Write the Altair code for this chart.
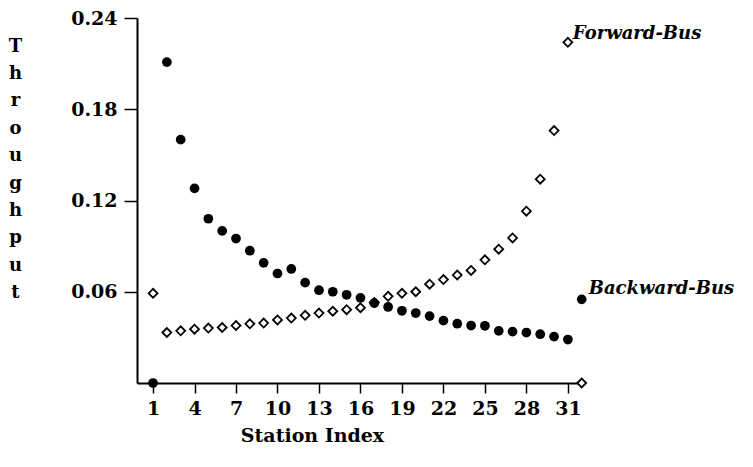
import altair as alt
import pandas as pd

stations = list(range(1, 33))
backward_bus = [0.0, 0.211, 0.160, 0.128, 0.108, 0.100, 0.095, 0.087, 0.079, 0.072,
                0.075, 0.066, 0.061, 0.060, 0.058, 0.056, 0.0525, 0.050, 0.0475, 0.046,
                0.044, 0.041, 0.039, 0.0378, 0.0376, 0.0343, 0.0338, 0.0332, 0.0321, 0.0305,
                0.0286, 0.055]
forward_bus = [0.059, 0.0332, 0.0343, 0.0354, 0.0361, 0.0365, 0.0378, 0.0389, 0.0394, 0.0415,
               0.0427, 0.0445, 0.046, 0.0472, 0.0482, 0.0495, 0.053, 0.057, 0.059, 0.060,
               0.065, 0.068, 0.071, 0.074, 0.081, 0.088, 0.0954, 0.113, 0.134, 0.166,
               0.224, 0.0]
x_ticks = list(range(1, 32, 3))
y_ticks = [0.06, 0.12, 0.18, 0.24]
y_title = ["T", "h", "r", "o", "u", "g", "h", "p", "u", "t"]

df_b = pd.DataFrame({"station": stations, "value": backward_bus})
df_f = pd.DataFrame({"station": stations, "value": forward_bus})
labels = pd.DataFrame({
    "station": [31, 32],
    "value": [0.224, 0.055],
    "label": ["Forward-Bus", "Backward-Bus"],
})

FONT = "DejaVu Serif"

x_enc = alt.X("station:Q",
              scale=alt.Scale(domain=[-0.16, 31.66], nice=False, zero=False),
              axis=alt.Axis(values=x_ticks, title="Station Index", grid=False,
                            tickSize=10, labelPadding=6, labelFontSize=19,
                            labelFontWeight="bold",
                            titleFontSize=19, titleFontWeight="bold",
                            titleX=175, titleY=52, titleBaseline="middle"))
y_enc = alt.Y("value:Q",
              scale=alt.Scale(domain=[0, 0.24], nice=False),
              axis=alt.Axis(values=y_ticks, format=".2f", title=y_title, grid=False,
                            tickSize=13, labelPadding=7, labelFontSize=19,
                            labelFontWeight="bold",
                            titleFontSize=18, titleFontWeight="bold", titleAngle=0,
                            titleX=-122, titleY=19, titleAlign="center",
                            titleBaseline="top", titleLineHeight=27.4))

back = alt.Chart(df_b).mark_point(shape="circle", filled=True, color="black",
                                  size=95, opacity=1).encode(x=x_enc, y=y_enc)
fwd = alt.Chart(df_f).mark_point(shape="diamond", filled=False, color="black",
                                 size=80, strokeWidth=1.8, opacity=1).encode(
    x="station:Q", y="value:Q")

txt_f = alt.Chart(labels.iloc[[0]]).mark_text(
    align="left", baseline="middle", dx=5, dy=-8, font=FONT, fontStyle="italic",
    fontWeight="bold", fontSize=18, color="black").encode(
    x="station:Q", y="value:Q", text="label:N")
txt_b = alt.Chart(labels.iloc[[1]]).mark_text(
    align="left", baseline="middle", dx=7, dy=-10, font=FONT, fontStyle="italic",
    fontWeight="bold", fontSize=18, color="black").encode(
    x="station:Q", y="value:Q", text="label:N")

chart = alt.layer(back, fwd, txt_f, txt_b).properties(
    width=440, height=365,
    autosize=alt.AutoSizeParams(type="none"),
    padding={"left": 129, "top": 10, "right": 168, "bottom": 70},
    background="white",
).configure_view(stroke=None).configure_axis(
    labelFont=FONT, titleFont=FONT, labelColor="black", titleColor="black",
    domainColor="black", domainWidth=2, tickColor="black", tickWidth=1.5,
)

chart.save("out.html", embed_options={"renderer": "svg", "actions": False})
